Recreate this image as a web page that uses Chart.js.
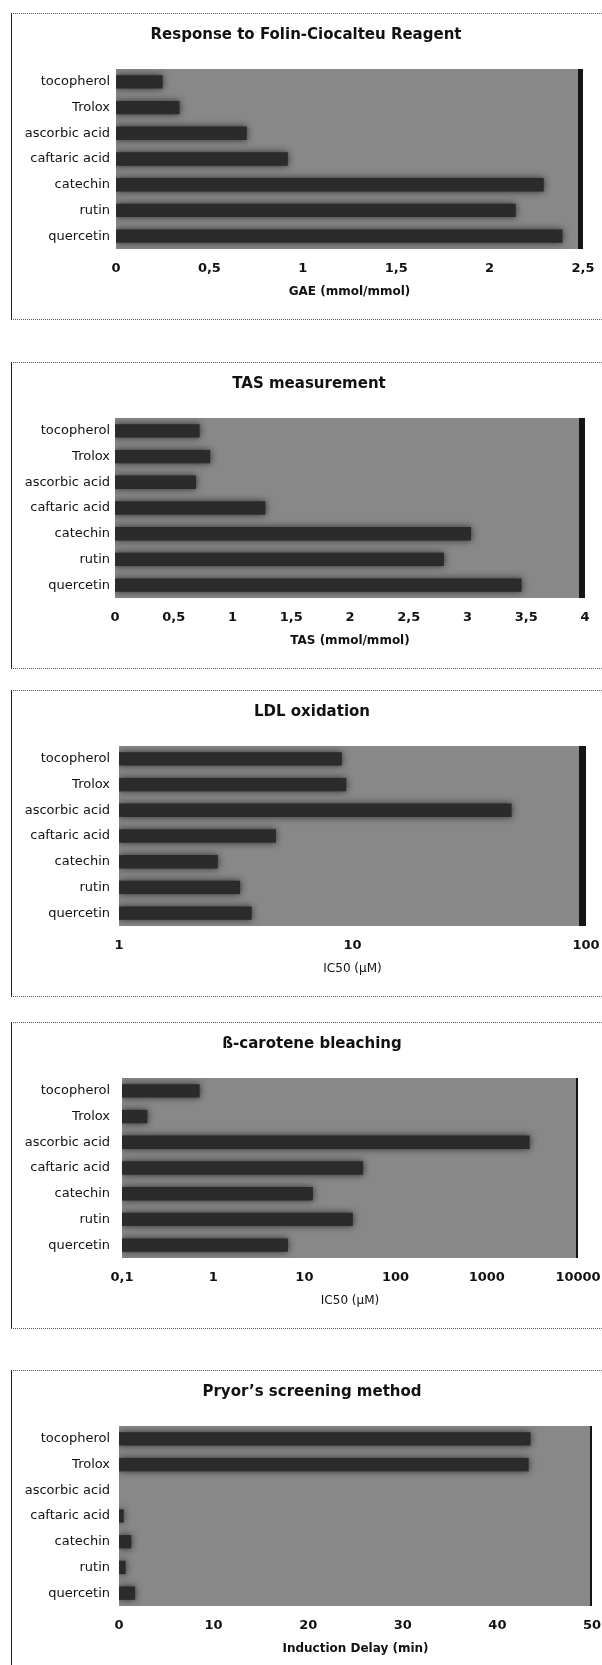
<!doctype html>
<html lang="en">
<head>
  <meta charset="utf-8">
  <title>Antioxidant assays</title>
  <script src="https://cdn.jsdelivr.net/npm/chart.js@4.4.0/dist/chart.umd.min.js"></script>
  <style>
    html, body { margin: 0; padding: 0; background: #fff; overflow: hidden; }
    body { position: relative; width: 602px; height: 1665px; }
    .frame { position: absolute; left: 11px; width: 590px; height: 305px;
             border-left: 1px solid #222; border-top: 1px dotted #555; border-bottom: 1px dotted #555; }
    canvas { position: absolute; left: 11px; }
  </style>
</head>
<body>

<script>
// compounds, top to bottom
var compounds = ['tocopherol', 'Trolox', 'ascorbic acid', 'caftaric acid', 'catechin', 'rutin', 'quercetin'];

// values
var gaeValues      = [0.25, 0.34, 0.70, 0.92, 2.29, 2.14, 2.39];   // mmol/mmol
var tasValues      = [0.72, 0.81, 0.69, 1.28, 3.03, 2.80, 3.46];   // mmol/mmol
var ldlValues      = [9.0, 9.4, 48, 4.7, 2.65, 3.3, 3.7];          // IC50 uM
var caroteneValues = [0.71, 0.19, 2950, 44, 12.4, 34, 6.6];        // IC50 uM
var pryorValues    = [43.5, 43.3, 0, 0.5, 1.3, 0.7, 1.7];          // min

// tick labels
var gaeTicks      = [0, 0.5, 1, 1.5, 2, 2.5];
var tasTicks      = [0, 0.5, 1, 1.5, 2, 2.5, 3, 3.5, 4];
var ldlTicks      = [1, 10, 100];
var caroteneTicks = [0.1, 1, 10, 100, 1000, 10000];
var pryorTicks    = [0, 10, 20, 30, 40, 50];

// w = canvas width (title is centred on it), left/right = plot edges inside the canvas
var panels = [
  {title: 'Response to Folin-Ciocalteu Reagent', axis: 'GAE (mmol/mmol)', data: gaeValues, ticks: gaeTicks,
   type: 'linear', top: 13, w: 590, left: 105, right: 572, gap: 6, strip: 5, axisWeight: 'bold'},
  {title: 'TAS measurement', axis: 'TAS (mmol/mmol)', data: tasValues, ticks: tasTicks,
   type: 'linear', top: 362, w: 596, left: 104, right: 574, gap: 5, strip: 6, axisWeight: 'bold'},
  {title: 'LDL oxidation', axis: 'IC50 (\u00b5M)', data: ldlValues, ticks: ldlTicks,
   type: 'logarithmic', top: 690, w: 602, left: 108, right: 575, gap: 9, strip: 7, axisWeight: 'normal'},
  {title: '\u00df-carotene bleaching', axis: 'IC50 (\u00b5M)', data: caroteneValues, ticks: caroteneTicks,
   type: 'logarithmic', top: 1022, w: 602, left: 111, right: 567, gap: 12, strip: 2, axisWeight: 'normal'},
  {title: 'Pryor\u2019s screening method', axis: 'Induction Delay (min)', data: pryorValues, ticks: pryorTicks,
   type: 'linear', top: 1370, w: 602, left: 108, right: 581, gap: 9, strip: 2, axisWeight: 'bold'}
];

Chart.defaults.font.family = 'DejaVu Sans';
Chart.defaults.color = '#111';

// gray plot wall + dark right edge, and soft edges on the bars
var wall = {
  id: 'wall',
  beforeDraw: function(chart, args, opts) {
    var a = chart.chartArea, c = chart.ctx;
    c.save();
    c.fillStyle = '#888888';
    c.fillRect(a.left, a.top, a.right - a.left, a.bottom - a.top);
    c.fillStyle = '#151515';
    c.fillRect(a.right - opts.strip, a.top, opts.strip, a.bottom - a.top);
    c.restore();
  },
  beforeDatasetsDraw: function(chart) {
    chart.ctx.save();
    chart.ctx.shadowColor = 'rgba(10,10,10,0.75)';
    chart.ctx.shadowBlur = 7;
  },
  afterDatasetsDraw: function(chart) {
    chart.ctx.restore();
  }
};

function fmt(v) { return String(v).replace('.', ','); }

panels.forEach(function(p) {
  var frame = document.createElement('div');
  frame.className = 'frame';
  frame.style.top = p.top + 'px';
  document.body.appendChild(frame);

  var cv = document.createElement('canvas');
  cv.width = p.w; cv.height = 306;
  cv.style.top = p.top + 'px';
  document.body.appendChild(cv);

  new Chart(cv.getContext('2d'), {
    type: 'bar',
    data: {
      labels: compounds,
      datasets: [{
        data: p.data,
        backgroundColor: '#2b2b2b',
        borderWidth: 0,
        barPercentage: 0.52,
        categoryPercentage: 1.0
      }]
    },
    plugins: [wall],
    options: {
      indexAxis: 'y',
      responsive: false,
      devicePixelRatio: 1,
      animation: false,
      layout: {padding: 0},
      plugins: {
        legend: {display: false},
        tooltip: {enabled: false},
        wall: {strip: p.strip},
        title: {display: true, text: p.title, color: '#111',
                font: {size: 15, weight: 'bold'}, padding: {top: 13, bottom: 25}}
      },
      scales: {
        y: {
          grid: {display: false, drawTicks: false},
          border: {display: false},
          ticks: {font: {size: 13}, color: '#111', padding: p.gap},
          afterFit: function(s) { s.width = p.left; }
        },
        // empty right-hand axis, only keeps the gap right of the plot
        yr: {
          type: 'linear',
          position: 'right',
          grid: {display: false, drawTicks: false},
          border: {display: false},
          ticks: {display: false},
          afterFit: function(s) { s.width = p.w - p.right; }
        },
        x: {
          type: p.type,
          min: p.ticks[0],
          max: p.ticks[p.ticks.length - 1],
          grid: {display: false, drawTicks: false},
          border: {display: false},
          afterBuildTicks: function(s) { s.ticks = p.ticks.map(function(v) { return {value: v}; }); },
          afterFit: function(s) { s.height = 70; s.paddingLeft = 0; s.paddingRight = 0; },
          ticks: {font: {size: 13, weight: 'bold'}, color: '#111', padding: 12,
                  maxRotation: 0, autoSkip: false, callback: function(v) { return fmt(v); }},
          title: {display: true, text: p.axis, color: '#111',
                  font: {size: 12, weight: p.axisWeight}, padding: {top: 0, bottom: 20}}
        }
      }
    }
  });
});
</script>

</body>
</html>
